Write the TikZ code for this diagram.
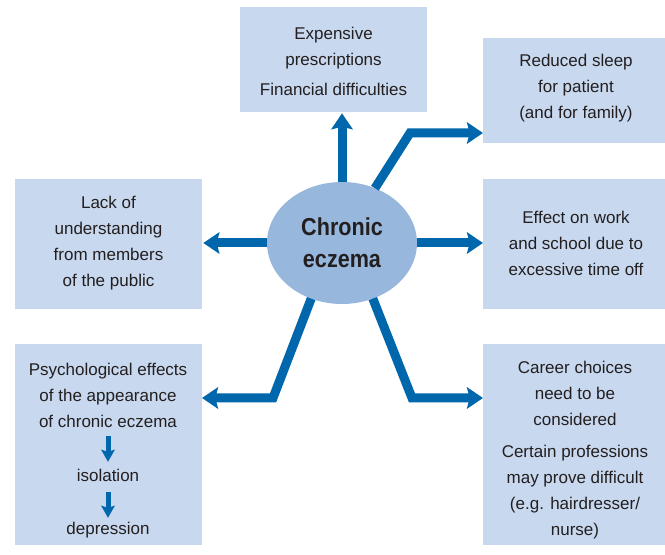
\documentclass[tikz,border=0pt]{standalone}
\usepackage{fontspec}
\setmainfont{Liberation Sans}
\newfontfamily\titlefont[FakeStretch=0.88]{Liberation Sans}
\usetikzlibrary{arrows.meta,shapes.geometric}
\definecolor{boxfill}{HTML}{C8D8EE}
\definecolor{ellfill}{HTML}{97B7DC}
\definecolor{arrowblue}{HTML}{0067AC}
\definecolor{txt}{HTML}{231F20}
\newdimen\pxu \pxu=0.75pt
\begin{document}
\begin{tikzpicture}[x=0.75pt,y=-0.75pt,
  box/.style={rectangle, fill=boxfill, draw=none, inner sep=0pt, outer sep=0pt},
  lbl/.style={align=center, inner sep=0pt, text=txt, font=\fontsize{12.75pt}{19.5pt}\selectfont},
  bigarrow/.style={draw=arrowblue, line width=6.75pt, line join=miter, -{Stealth[length=12pt,width=16pt,inset=2pt]}},
  smallarrow/.style={draw=arrowblue, line width=3.75pt, -{Stealth[length=9pt,width=10pt,inset=1.5pt]}},
  centre/.style={ellipse, fill=ellfill, draw=none, inner sep=0pt, outer sep=0pt, minimum width=150\pxu, minimum height=122\pxu, align=center, text=txt, font=\titlefont\bfseries\fontsize{18.4pt}{24pt}\selectfont}
  ]
\useasboundingbox (0,0) rectangle (665,555);
% boxes
\node[box, minimum width=187\pxu, minimum height=105\pxu] (top) at (333.5,59.5) {};
\node[box, minimum width=182\pxu, minimum height=105\pxu] (tr) at (574,90.5) {};
\node[box, minimum width=187\pxu, minimum height=130\pxu] (lm) at (108.5,244) {};
\node[box, minimum width=182\pxu, minimum height=130\pxu] (rm) at (574,244) {};
\node[box, minimum width=187\pxu, minimum height=201\pxu] (bl) at (108.5,444.5) {};
\node[box, minimum width=182\pxu, minimum height=201\pxu] (br) at (574,444.5) {};
% texts
\node[lbl] (ttop) at (333.5,61) {Expensive\\prescriptions\\[3pt]Financial difficulties};
\node[lbl] (ttr) at (576,88.5) {Reduced sleep\\for patient\\(and for family)};
\node[lbl] (tlm) at (108.5,243.5) {Lack of\\understanding\\from members\\of the public};
\node[lbl] (trm) at (576,243.5) {Effect on work\\and school due to\\excessive time off};
\node[lbl] (psy) at (108,395) {Psychological effects\\of the appearance\\of chronic eczema};
\node[lbl] (iso) at (108,475) {isolation};
\node[lbl] (dep) at (108,530) {depression};
\node[lbl] (tbr) at (575,450) {Career choices\\need to be\\considered\\[4.5pt]Certain professions\\may prove difficult\\(e.g. hairdresser/\\nurse)};
% small arrows
\draw[smallarrow, shorten <=6pt, shorten >=5pt] (psy.south) -- (iso.north);
\draw[smallarrow, shorten <=8pt, shorten >=3pt] (iso.south) -- (dep.north);
% centre
\node[centre] (ce) at (342,243) {Chronic\\eczema};
% connector bends
\coordinate (b1) at (410,133);
\coordinate (b2) at (273,398);
\coordinate (b3) at (412,398);
% big arrows
\draw[bigarrow, shorten >=1pt] (ce.north) -- (ce.north |- top.south);
\draw[bigarrow] (ce.59) -- (b1) -- (b1 -| tr.west);
\draw[bigarrow, shorten >=1pt] (ce.west) -- (ce.west -| lm.east);
\draw[bigarrow] (ce.east) -- (ce.east -| rm.west);
\draw[bigarrow] (ce.241.5) -- (b2) -- (b2 -| bl.east);
\draw[bigarrow] (ce.299) -- (b3) -- (b3 -| br.west);
\end{tikzpicture}
\end{document}
